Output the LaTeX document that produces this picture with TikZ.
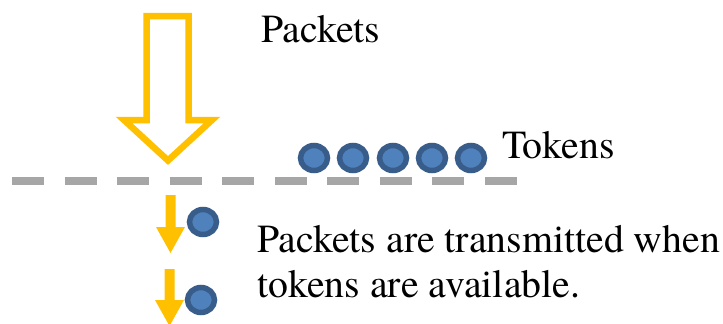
\documentclass[tikz,border=0pt]{standalone}
\usepackage{fontspec}
\setmainfont{TeX Gyre Termes}
\usetikzlibrary{shapes.geometric}
\definecolor{gold}{HTML}{FFC000}
\definecolor{dashgray}{HTML}{A6A6A6}
\definecolor{tokfill}{HTML}{4F81BD}
\definecolor{tokline}{HTML}{385D8A}
\tikzset{
  token/.style={ellipse, draw=tokline, fill=tokfill, line width=5.5pt,
    minimum width=27pt, minimum height=25pt, inner sep=0pt},
  txt/.style={font=\fontsize{39.8}{45}\selectfont, inner sep=0pt, text=black},
  bigarrow/.style={draw=gold, fill=white, line width=6.5pt, line join=miter},
  smallarrow/.style={fill=gold, draw=none},
  bucket/.style={draw=dashgray, line width=8pt, dash pattern=on 32pt off 20.56pt}
}
\begin{document}
\begin{tikzpicture}[x=1pt,y=-1pt]
\useasboundingbox (0,0) rectangle (723,324);
% big hollow arrow
\draw[bigarrow] (146.5,16) -- (188.5,16) -- (188.5,120) -- (212,120) -- (168,160.5)
  -- (124,120) -- (146.5,120) -- cycle;
% dashed line
\coordinate (dl) at (12,181);
\coordinate (dr) at (517,181);
\draw[bucket] (dl) -- (dr);
% tokens
\node[token] (t1) at (314,158) {};
\node[token] (t2) at (353,158) {};
\node[token] (t3) at (393,158) {};
\node[token] (t4) at (432,158) {};
\node[token] (t5) at (471,158) {};
% small arrows
\fill[smallarrow] (165.5,195) -- (175.5,195) -- (175.5,227) -- (185,227) -- (170.5,253)
  -- (156,227) -- (165.5,227) -- cycle;
\fill[smallarrow] (164.5,269) -- (174.5,269) -- (174.5,300) -- (184,300) -- (169.5,326)
  -- (155,300) -- (164.5,300) -- cycle;
% transmitted tokens
\node[token] (s1) at (203,222) {};
\node[token] (s2) at (201,300) {};
% labels
\node[txt, anchor=base west] (packets) at (261,42) {Packets};
\node[txt, anchor=base west] (tokens) at (502,158) {Tokens};
\node[txt, anchor=base west] (desc1) at (257,252) {Packets are transmitted when};
\node[txt, anchor=base west] (desc2) at (257,297) {tokens are available.};
\end{tikzpicture}
\end{document}
